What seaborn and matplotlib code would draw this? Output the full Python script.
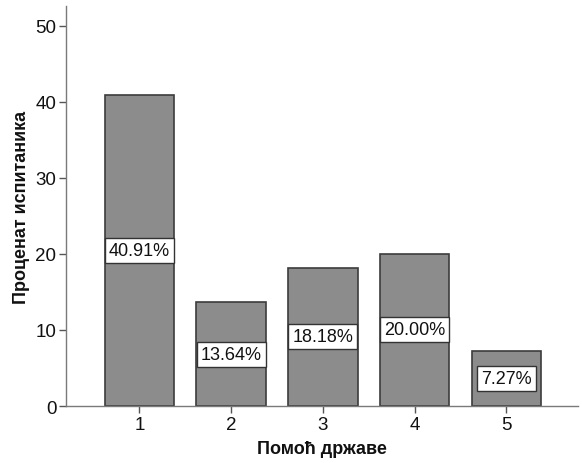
import matplotlib
matplotlib.use("Agg")
import matplotlib.pyplot as plt
import seaborn as sns
import pandas as pd

categories = ["1", "2", "3", "4", "5"]
percents = [40.91, 13.64, 18.18, 20.00, 7.27]
labels = ["40.91%", "13.64%", "18.18%", "20.00%", "7.27%"]

sns.set_style("white")
plt.rcParams['font.family'] = ['Liberation Sans', 'DejaVu Sans']

df = pd.DataFrame({"cat": categories, "pct": percents})

fig = plt.figure(figsize=(5.82, 4.64), dpi=100)
ax = fig.add_axes([0.1134, 0.1228, 0.8796, 0.8622])

sns.barplot(data=df, x="cat", y="pct", color="#8c8c8c", saturation=1,
            width=0.76, edgecolor="#3c3c3c", linewidth=1.2, ax=ax)

for i, (v, lab) in enumerate(zip(percents, labels)):
    ax.text(i, v / 2, lab, ha="center", va="center", fontsize=13,
            color="#111111",
            bbox=dict(boxstyle="square,pad=0.22", fc="white", ec="#333333", lw=1.0))

ax.set_xlim(-0.8, 4.78)
ax.set_ylim(0, 52.6)
ax.set_yticks([0, 10, 20, 30, 40, 50])
ax.set_yticklabels(["0", "10", "20", "30", "40", "50"])

for s in ["top", "right"]:
    ax.spines[s].set_visible(False)
for s in ["left", "bottom"]:
    ax.spines[s].set_color("#7a7a7a")
    ax.spines[s].set_linewidth(1.0)

ax.tick_params(axis="both", which="both", direction="out", length=5, width=1,
               color="#555555", labelsize=13.5, labelcolor="#111111", pad=2,
               bottom=True, left=True)

ax.set_xlabel("Помоћ државе", fontsize=13, fontweight="bold", labelpad=5, color="#111111")
ax.set_ylabel("Проценат испитаника", fontsize=13, fontweight="bold", labelpad=4, color="#111111")

fig.savefig("out.png", dpi=100)
